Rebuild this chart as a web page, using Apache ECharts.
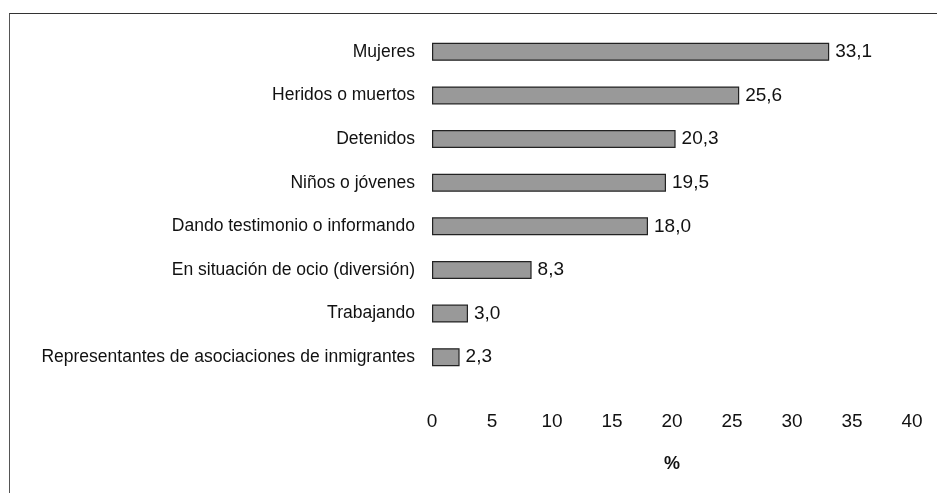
<!DOCTYPE html>
<html>
<head>
<meta charset="utf-8">
<script src="https://cdn.jsdelivr.net/npm/echarts@6/dist/echarts.min.js"></script>
<style>
  html, body { margin: 0; padding: 0; background: #fff; }
  #frame {
    position: absolute; left: 9px; top: 13px; width: 928px; height: 480px;
    border-top: 1.5px solid #333; border-left: 1.5px solid #555;
  }
  #chart { position: absolute; left: 0; top: 0; width: 937px; height: 493px; }
</style>
</head>
<body>
<div id="frame"></div>
<div id="chart"></div>
<script>
  // categorías y porcentajes
  const categories = [
    "Mujeres",
    "Heridos o muertos",
    "Detenidos",
    "Niños o jóvenes",
    "Dando testimonio o informando",
    "En situación de ocio (diversión)",
    "Trabajando",
    "Representantes de asociaciones de inmigrantes"
  ];
  const values = [33.1, 25.6, 20.3, 19.5, 18.0, 8.3, 3.0, 2.3];
  const xTicks = [0, 5, 10, 15, 20, 25, 30, 35, 40];

  const chart = echarts.init(document.getElementById("chart"));
  const option = {
    animation: false,
    grid: { left: 432, right: 25, top: 30, bottom: 114, containLabel: false },
    xAxis: {
      type: "value",
      min: xTicks[0],
      max: xTicks[xTicks.length - 1],
      interval: 5,
      name: "%",
      nameLocation: "middle",
      nameGap: 76,
      nameTextStyle: { fontFamily: "Liberation Sans", fontSize: 18, fontWeight: "bold", color: "#111" },
      axisLine: { show: false },
      axisTick: { show: false },
      splitLine: { show: false },
      axisLabel: { fontFamily: "Liberation Sans", fontSize: 19, color: "#111", margin: 33 }
    },
    yAxis: {
      type: "category",
      data: categories,
      inverse: true,
      axisLine: { show: false },
      axisTick: { show: false },
      axisLabel: { fontFamily: "Liberation Sans", fontSize: 17.5, color: "#111", margin: 17 }
    },
    series: [{
      type: "bar",
      data: values,
      barWidth: 18,
      itemStyle: { color: "#999999", borderColor: "#222", borderWidth: 1.2 },
      label: {
        show: true,
        position: "right",
        distance: 6,
        fontFamily: "Liberation Sans",
        fontSize: 19,
        color: "#111",
        formatter: (p) => p.value.toFixed(1).replace(".", ",")
      }
    }]
  };
  chart.setOption(option);
</script>
</body>
</html>
